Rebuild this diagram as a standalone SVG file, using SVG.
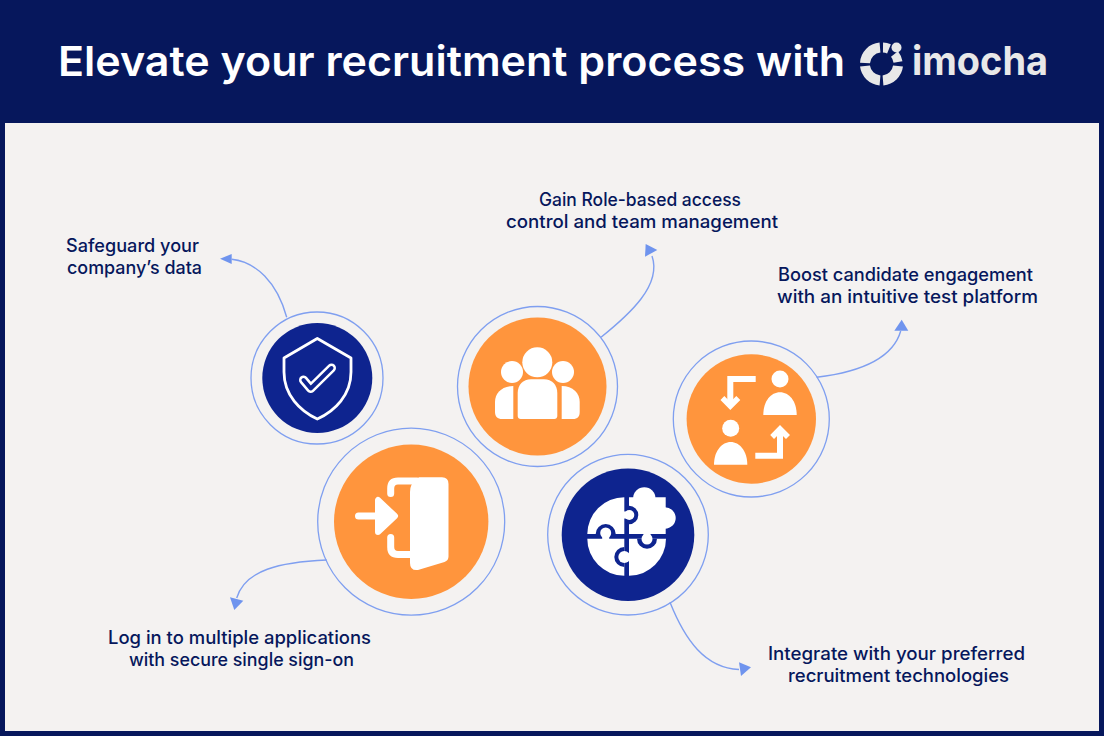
<svg xmlns="http://www.w3.org/2000/svg" width="1104" height="736" viewBox="0 0 1104 736">
<defs>
<style>
.lbl{font-family:"Inter","Lato","Liberation Sans",sans-serif;font-size:18px;font-weight:500;fill:#06175c}
.ring{fill:none;stroke:#7f9ff0;stroke-width:1.3}
.orange{fill:#ff953d}
.navy{fill:#0e248f}
.wh{fill:#fff}
.conn{fill:none;stroke:#7f9ff0;stroke-width:1.4}
.head{fill:#6f94ee}
.logo{fill:none;stroke:#e8e8e8;stroke-width:10}
</style>
</defs>
<rect id="background" width="1104" height="736" fill="#06175c"/>
<rect id="panel" x="5" y="123" width="1094" height="608" fill="#f4f2f1"/>
<g id="header">
<text x="58" y="76" textLength="787" lengthAdjust="spacingAndGlyphs" style="font-family:'Inter','Lato','Liberation Sans',sans-serif;font-size:41px;font-weight:600;fill:#fff">Elevate your recruitment process with</text>
<g id="logo">
<path class="logo" d="M865 63A16.500 16.500 0 0 1 880 47.600"/>
<path class="logo" d="M865 66A16.500 16.500 0 0 0 880 80.400"/>
<path class="logo" d="M883 80.400A16.500 16.500 0 0 0 898 66"/>
<path d="M883 47.600A16.500 16.500 0 0 1 889 48.800" fill="none" stroke="#e8e8e8" stroke-width="10"/>
<path d="M898 62A16.500 16.500 0 0 0 894.500 54" fill="none" stroke="#e8e8e8" stroke-width="9"/>
<circle cx="896.500" cy="47.500" r="5" fill="#e8e8e8"/>
<text x="912" y="75" textLength="136" lengthAdjust="spacingAndGlyphs" style="font-family:'Inter','Lato','Liberation Sans',sans-serif;font-size:40px;font-weight:700;fill:#e8e8e8">imocha</text>
</g>
</g>
<g id="connectors">
<path class="conn" d="M286.700 317.300C277 282 256 262 231.700 259.300"/>
<polygon class="head" points="220,258.700 231.700,254 231.700,264"/>
<path class="conn" d="M601 337.300C630 314 662 285 652 256"/>
<polygon class="head" points="645.700,244 657.300,250 645,256.700"/>
<path class="conn" d="M816.700 377.300C860 372 893 358 900.700 331"/>
<polygon class="head" points="901.700,319.700 894.300,330.700 908.300,330.700"/>
<path class="conn" d="M326.700 560C280 562 245 570 236.700 598"/>
<polygon class="head" points="230,597.300 243.300,600.700 234.300,610"/>
<path class="conn" d="M670 602.300C685 640 705 668 739 669.500"/>
<polygon class="head" points="739,662.300 751,667.300 741,676"/>
</g>
<g id="node-shield">
<circle class="ring" cx="317" cy="378" r="66"/>
<circle class="navy" cx="317.300" cy="378" r="55"/>
<path d="M317.300 338.500L351 358V372C351 395 335 411 317.300 419C300 411 284 395 284 372V358Z" fill="none" stroke="#fff" stroke-width="2.800" stroke-linejoin="round"/>
<polyline points="303.500,380 310.700,388.500 331.500,368" fill="none" stroke="#fff" stroke-width="9" stroke-linecap="round" stroke-linejoin="round"/>
<polyline points="303.500,380 310.700,388.500 331.500,368" fill="none" stroke="#0e248f" stroke-width="4" stroke-linecap="round" stroke-linejoin="round"/>
<text class="lbl" x="66" y="252" textLength="133" lengthAdjust="spacingAndGlyphs">Safeguard your</text>
<text class="lbl" x="67" y="274" textLength="135" lengthAdjust="spacingAndGlyphs">company’s data</text>
</g>
<g id="node-team">
<circle class="ring" cx="537.500" cy="386.500" r="80"/>
<circle class="orange" cx="537.500" cy="386.500" r="69"/>
<circle class="wh" cx="537.300" cy="362.300" r="15"/>
<circle class="wh" cx="512" cy="372" r="11"/>
<circle class="wh" cx="563" cy="372" r="11"/>
<path class="wh" d="M517.700 393C517.700 385 523 379.300 531 379.300H544C552 379.300 557.300 385 557.300 393V416C557.300 418 556 419 554.300 419H520.700C519 419 517.700 418 517.700 416Z"/>
<path class="wh" d="M513.300 386C502 386 495 393 495 402V412C495 416.500 497.500 419 502 419H513.300Z"/>
<path class="wh" d="M561.700 386C573 386 579.700 393 579.700 402V412C579.700 416.500 577.500 419 573 419H561.700Z"/>
<text class="lbl" x="539" y="206" textLength="202" lengthAdjust="spacingAndGlyphs">Gain Role-based access</text>
<text class="lbl" x="506" y="228" textLength="272" lengthAdjust="spacingAndGlyphs">control and team management</text>
</g>
<g id="node-engagement">
<circle class="ring" cx="751.300" cy="419" r="78"/>
<circle class="orange" cx="751.300" cy="419" r="64.700"/>
<circle class="wh" cx="780" cy="379" r="8.500"/>
<path class="wh" d="M763.300 415C763.300 401 771 392.300 780 392.300S796.700 401 796.700 415Z"/>
<circle class="wh" cx="730.700" cy="428.300" r="8.500"/>
<path class="wh" d="M714 464.700C714 451 722 442 730.700 442S747.300 451 747.300 464.700Z"/>
<polyline points="755.700,379 730.300,379 730.300,403" fill="none" stroke="#fff" stroke-width="6"/>
<polygon class="wh" points="730.300,410 740.300,400 736.300,396 730.300,402 724.300,396 720.500,400"/>
<polyline points="755.300,455.700 780,455.700 780,432" fill="none" stroke="#fff" stroke-width="6"/>
<polygon class="wh" points="780,425 790,435 786,439 780,433 774,439 770.200,435"/>
<text class="lbl" x="778" y="281" textLength="255" lengthAdjust="spacingAndGlyphs">Boost candidate engagement</text>
<text class="lbl" x="777" y="303" textLength="261" lengthAdjust="spacingAndGlyphs">with an intuitive test platform</text>
</g>
<g id="node-login">
<circle class="ring" cx="411.200" cy="521.700" r="93.500"/>
<circle class="orange" cx="411.200" cy="521.700" r="77.200"/>
<line x1="358.500" y1="516" x2="378" y2="516" stroke="#fff" stroke-width="7" stroke-linecap="round"/>
<polygon class="wh" points="378,500 378,532 395,516" stroke="#fff" stroke-width="6" stroke-linejoin="round"/>
<path d="M390.700 493.500V488.500Q390.700 481 398 481H417" fill="none" stroke="#fff" stroke-width="7" stroke-linecap="round"/>
<path d="M390.700 537.500V547Q390.700 554.500 398 554.500H415" fill="none" stroke="#fff" stroke-width="7" stroke-linecap="round"/>
<path class="wh" d="M419 477.300H442Q448.500 477.300 448.500 484V556.500Q448.500 560.500 444.500 562L418 570Q410 571 410 563V492Q410 484 415 481Z"/>
<text class="lbl" x="108" y="644" textLength="263" lengthAdjust="spacingAndGlyphs">Log in to multiple applications</text>
<text class="lbl" x="129" y="666" textLength="225" lengthAdjust="spacingAndGlyphs">with secure single sign-on</text>
</g>
<g id="node-integrate">
<circle class="ring" cx="628" cy="534.700" r="80.300"/>
<circle class="navy" cx="628" cy="534.700" r="66.300"/>
<path class="wh" d="M624.300 497.300A37 37 0 0 0 587.300 534H624.300Z"/>
<path class="wh" d="M587.300 538.700A37 37 0 0 0 624.300 575.700V538.700Z"/>
<path class="wh" d="M629 538.700V575.700A37 37 0 0 0 666 538.700Z"/>
<path class="wh" d="M629 497.300H665.700V534H629Z"/>
<circle class="wh" cx="644.300" cy="498.500" r="11.200"/>
<circle class="wh" cx="665" cy="518" r="10.700"/>
<path class="navy" d="M629 505.700A9.300 9.300 0 0 1 629 524.300Z"/>
<circle class="wh" cx="629.300" cy="515" r="5"/>
<rect class="wh" x="623" y="511.500" width="7" height="7"/>
<path class="navy" d="M595.700 534A10 10 0 0 1 615.700 534Z"/>
<circle class="wh" cx="605.700" cy="533" r="5.500"/>
<rect class="wh" x="602.200" y="532" width="7" height="7"/>
<path class="navy" d="M637 538.700A10 10 0 0 0 657 538.700Z"/>
<circle class="wh" cx="647" cy="539" r="5.500"/>
<rect class="wh" x="643.500" y="533" width="7" height="6"/>
<path class="navy" d="M624.300 547A10 10 0 0 0 624.300 567Z"/>
<circle class="wh" cx="624.300" cy="557" r="6"/>
<rect class="wh" x="623" y="553.500" width="7" height="7"/>
<text class="lbl" x="768" y="660" textLength="257" lengthAdjust="spacingAndGlyphs">Integrate with your preferred</text>
<text class="lbl" x="788" y="682" textLength="221" lengthAdjust="spacingAndGlyphs">recruitment technologies</text>
</g>
</svg>
